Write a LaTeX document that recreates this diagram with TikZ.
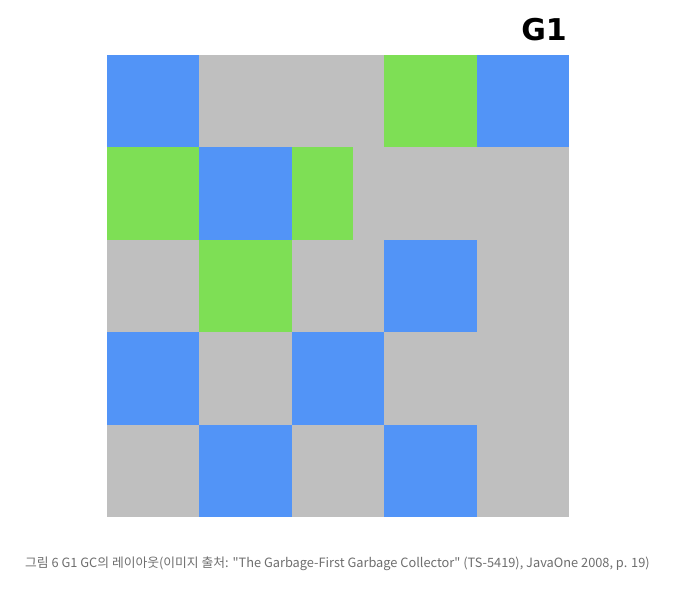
\documentclass[tikz,border=0pt]{standalone}
\usepackage{fontspec}
\newfontfamily\krfont{Noto Sans CJK KR}
\newfontfamily\titlefont{DejaVu Sans}
\definecolor{cblue}{RGB}{82,148,247}
\definecolor{cgreen}{RGB}{126,223,85}
\definecolor{cgray}{RGB}{191,191,191}
\definecolor{captgray}{RGB}{110,110,110}
\begin{document}
\begin{tikzpicture}[x=1pt,y=-1pt]
\useasboundingbox (0,0) rectangle (675,590);
\fill[white] (0,0) rectangle (675,590);
% background gray grid
\fill[cgray] (107,55) rectangle (568.5,517);
% row 0
\fill[cblue] (107,55) rectangle (199.4,147.4);
\fill[cgreen] (384.2,55) rectangle (476.6,147.4);
\fill[cblue] (476.6,55) rectangle (568.5,147.4);
% row 1
\fill[cgreen] (107,147.4) rectangle (199.4,239.8);
\fill[cblue] (199.4,147.4) rectangle (291.8,239.8);
\fill[cgreen] (291.8,147.4) rectangle (353.2,239.8);
% row 2
\fill[cgreen] (199.4,239.8) rectangle (291.8,332.2);
\fill[cblue] (384.2,239.8) rectangle (476.6,332.2);
% row 3
\fill[cblue] (107,332.2) rectangle (199.4,424.6);
\fill[cblue] (291.8,332.2) rectangle (384.2,424.6);
% row 4
\fill[cblue] (199.4,424.6) rectangle (291.8,517);
\fill[cblue] (384.2,424.6) rectangle (476.6,517);
% title
\node[anchor=base east, inner sep=0pt, font=\titlefont\bfseries\fontsize{30}{30}\selectfont] (title) at (567,40) {G1};
% caption
\node[anchor=base west, inner sep=0pt, text=captgray, font=\krfont\fontsize{12.8}{14}\selectfont] (caption) at (25,567) {그림 6 G1 GC의 레이아웃(이미지 출처: "The Garbage-First Garbage Collector" (TS-5419), JavaOne 2008, p. 19)};
\end{tikzpicture}
\end{document}
